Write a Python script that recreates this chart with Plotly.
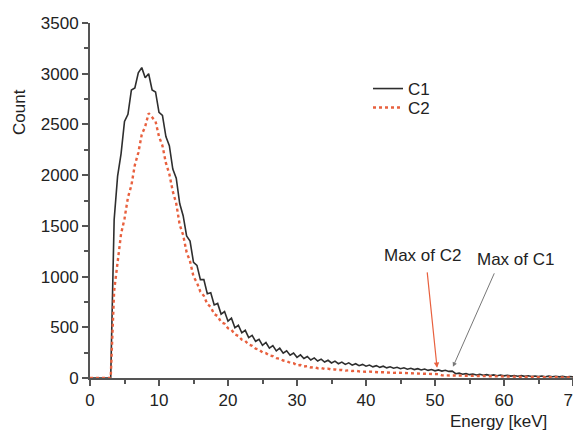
import plotly.graph_objects as go

# Energy bins (keV), 0.5 keV spacing from 0 to 70
energy = [i * 0.5 for i in range(141)]

c1_counts = [
    0, 0, 0, 0, 0, 0, 0, 1560, 1990, 2210,                        # 0.0 - 4.5
    2530, 2600, 2840, 2860, 3010, 3060, 2960, 3000, 2840, 2820,   # 5.0 - 9.5
    2620, 2590, 2380, 2290, 2060, 1970, 1720, 1600, 1400, 1350,   # 10 - 14.5
    1140, 1110, 970, 970, 830, 840, 720, 735, 630, 655,           # 15 - 19.5
    560, 590, 495, 520, 445, 470, 398, 420, 362, 382,             # 20 - 24.5
    322, 350, 294, 320, 268, 294, 244, 268, 225, 246,             # 25 - 29.5
    204, 228, 192, 212, 178, 198, 167, 186, 157, 175,             # 30 - 34.5
    148, 166, 141, 157, 134, 149, 127, 141, 121, 134,             # 35 - 39.5
    116, 128, 110, 122, 105, 116, 100, 111, 96, 106,              # 40 - 44.5
    91, 101, 87, 96, 83, 92, 79, 88, 75, 84,                      # 45 - 49.5
    71, 80, 68, 76, 65, 68, 42, 48, 37, 43,                       # 50 - 54.5
    33, 39, 30, 36, 27, 33, 25, 31, 23, 29,                       # 55 - 59.5
    21, 27, 19, 25, 18, 23, 16, 22, 15, 20,                       # 60 - 64.5
    14, 19, 13, 18, 12, 17, 11, 16, 10, 15,                       # 65 - 69.5
    11,                                                           # 70
]

c2_counts = [
    0, 0, 0, 0, 0, 0, 0, 860, 1140, 1420,
    1570, 1780, 1900, 2100, 2220, 2400, 2480, 2610, 2570, 2530,
    2380, 2290, 2120, 2010, 1840, 1720, 1510, 1410, 1240, 1150,
    1000, 940, 850, 810, 730, 700, 630, 610, 550, 535,
    490, 475, 430, 415, 378, 365, 330, 318, 290, 280,
    252, 245, 222, 215, 196, 190, 172, 166, 150, 146,
    124, 128, 113, 117, 104, 107, 96, 99, 89, 92,
    83, 85, 78, 80, 73, 75, 69, 71, 65, 67,
    62, 63, 59, 60, 56, 57, 53, 54, 51, 52,
    49, 49, 47, 47, 45, 45, 43, 43, 41, 41,
    40, 38, 26, 27, 25, 25, 24, 24, 23, 22,
    21, 21, 20, 19, 18, 18, 17, 16, 16, 15,
    14, 14, 13, 12, 12, 11, 11, 10, 10, 9,
    9, 8, 8, 7, 7, 6, 6, 6, 5, 5,
    5,
]

series_names = ["C1", "C2"]
x_ticks = [0, 10, 20, 30, 40, 50, 60, 70]
y_ticks = [0, 500, 1000, 1500, 2000, 2500, 3000, 3500]

max_c2 = (50.3, 100)
max_c1 = (52.6, 110)

FONT = "Liberation Sans, Arial, sans-serif"
AX = "#555555"
TXT = "#222222"

# page has an 8px body margin: figure is offset by 8px
OFF = 8
PL, PR, PT, PB = 90, 573, 23, 378  # plot-area edges in page pixels
W, H = 581, 430 - OFF
PW, PH = PR - PL, PB - PT


def px(x):
    return (x - PL) / PW


def py(y):
    return (PB - y) / PH


fig = go.Figure()
fig.add_trace(go.Scatter(x=energy, y=c1_counts, name=series_names[0], mode="lines",
                         line=dict(color="#2e2e2e", width=1.6), legend="legend"))
fig.add_trace(go.Scatter(x=energy, y=c2_counts, name=series_names[1], mode="lines",
                         line=dict(color="#e8603e", width=2.4, dash="dot"), legend="legend2"))

axis_common = dict(
    showgrid=False, zeroline=False, showline=True, linecolor=AX, linewidth=2,
    ticks="outside", ticklen=6, tickwidth=2, tickcolor=AX,
    tickfont=dict(family=FONT, size=17, color=TXT),
    ticklabeloverflow="allow", automargin=False,
)

fig.update_xaxes(range=[0, 70], tickvals=x_ticks,
                 minor=dict(dtick=5, ticks="outside", ticklen=4, tickwidth=2, tickcolor=AX),
                 **axis_common)
fig.update_yaxes(range=[0, 3500], tickvals=y_ticks,
                 minor=dict(dtick=250, ticks="outside", ticklen=4, tickwidth=2, tickcolor=AX),
                 **axis_common)

ann_common = dict(xref="paper", yref="paper", showarrow=False,
                  xanchor="center", yanchor="middle",
                  font=dict(family=FONT, size=17, color=TXT))

fig.add_annotation(text="Energy [keV]", x=px(498.7), y=py(421.7), **ann_common)
fig.add_annotation(text="Count", x=px(19), y=py(112), textangle=-90, **ann_common)

# labels
fig.add_annotation(text="Max of C2", x=px(422), y=py(255), **ann_common)
fig.add_annotation(text="Max of C1", x=px(515), y=py(259), **ann_common)
# arrows
fig.add_annotation(text="", x=max_c2[0], y=max_c2[1], xref="x", yref="y",
                   ax=-10, ay=-97, showarrow=True, arrowcolor="#e8603e",
                   arrowwidth=1.2, arrowhead=2, arrowsize=0.9)
fig.add_annotation(text="", x=max_c1[0], y=max_c1[1], xref="x", yref="y",
                   ax=42, ay=-95, showarrow=True, arrowcolor="#777777",
                   arrowwidth=1.0, arrowhead=2, arrowsize=0.9)

leg_common = dict(xanchor="left", yanchor="middle", bgcolor="rgba(0,0,0,0)",
                  font=dict(family=FONT, size=17, color=TXT), itemwidth=30)

fig.update_layout(
    width=W, height=H,
    margin=dict(l=PL - OFF, r=W - (PR - OFF), t=PT - OFF, b=H - (PB - OFF), autoexpand=False),
    plot_bgcolor="white", paper_bgcolor="white",
    font=dict(family=FONT, size=17, color=TXT),
    legend=dict(x=px(368), y=py(89), **leg_common),
    legend2=dict(x=px(368), y=py(108), **leg_common),
    showlegend=True,
)

fig.write_html("out.html")
